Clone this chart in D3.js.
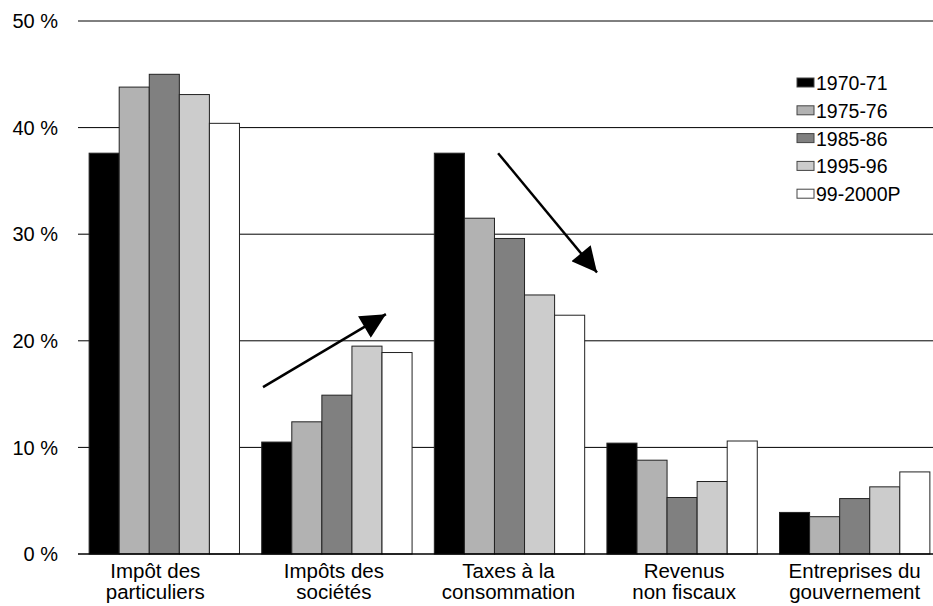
<!DOCTYPE html>
<html>
<head>
<meta charset="utf-8">
<script src="https://cdn.jsdelivr.net/npm/d3@7"></script>
<style>
  html, body { margin: 0; padding: 0; background: #fff; }
  svg { display: block; font-family: "Liberation Sans", Arial, sans-serif; }
</style>
</head>
<body>
<svg id="chart" width="933" height="606"></svg>
<script>
// ---- data ----
const categories = [
  ["Impôt des", "particuliers"],
  ["Impôts des", "sociétés"],
  ["Taxes à la", "consommation"],
  ["Revenus", "non fiscaux"],
  ["Entreprises du", "gouvernement"]
];
const seriesNames = ["1970-71", "1975-76", "1985-86", "1995-96", "99-2000P"];
const s1970 = [37.6, 10.5, 37.6, 10.4, 3.9];
const s1975 = [43.8, 12.4, 31.5, 8.8, 3.5];
const s1985 = [45.0, 14.9, 29.6, 5.3, 5.2];
const s1995 = [43.1, 19.5, 24.3, 6.8, 6.3];
const s1999 = [40.4, 18.9, 22.4, 10.6, 7.7];
const seriesValues = [s1970, s1975, s1985, s1995, s1999];
const seriesColors = ["#000000", "#b2b2b2", "#808080", "#cccccc", "#ffffff"];
const yTicks = [0, 10, 20, 30, 40, 50];
// annotation arrows, in (category position, percent) units
const arrows = [
  { x0: 1.072, y0: 15.66, x1: 1.784, y1: 22.5 },
  { x0: 2.434, y0: 37.6, x1: 3.007, y1: 26.4 }
];

// ---- layout ----
const svg = d3.select("#chart");
const mLeft = 78, mRight = 941, mTop = 21, mBottom = 554;
const labelShift = [-9, -3, -1, 2, 0];

const x = d3.scaleBand().domain(d3.range(categories.length)).range([mLeft, mRight]).padding(0);
const xc = d3.scaleLinear().domain([0, categories.length]).range([mLeft, mRight]);
const inner = d3.scaleBand().domain(d3.range(seriesNames.length))
  .range([0, x.bandwidth()]).paddingOuter(0.37).paddingInner(0);
const y = d3.scaleLinear().domain([0, 50]).range([mBottom, mTop]);

// gridlines
svg.append("g").selectAll("line").data(yTicks.filter(d => d > 0)).join("line")
  .attr("x1", mLeft).attr("x2", 933)
  .attr("y1", d => y(d)).attr("y2", d => y(d))
  .attr("stroke", "#000").attr("stroke-width", 1);

// y labels
svg.append("g").selectAll("text").data(yTicks).join("text")
  .attr("x", 58).attr("y", d => y(d)).attr("dy", "0.36em")
  .attr("text-anchor", "end").attr("font-size", 20).attr("fill", "#000")
  .text(d => d + " %");

// bars
const groups = svg.append("g").selectAll("g").data(categories).join("g")
  .attr("transform", (d, i) => `translate(${x(i)},0)`);
groups.selectAll("rect").data((d, i) => seriesValues.map((s, k) => ({ k, v: s[i] })))
  .join("rect")
  .attr("x", d => inner(d.k)).attr("width", inner.bandwidth())
  .attr("y", d => y(d.v)).attr("height", d => y(0) - y(d.v))
  .attr("fill", d => seriesColors[d.k])
  .attr("stroke", "#222").attr("stroke-width", 1);

// zero axis
svg.append("line").attr("x1", mLeft).attr("x2", 933)
  .attr("y1", y(0)).attr("y2", y(0)).attr("stroke", "#000").attr("stroke-width", 1.5);

// category labels
const cl = svg.append("g").selectAll("text").data(categories).join("text")
  .attr("x", (d, i) => x(i) + x.bandwidth() / 2 + labelShift[i])
  .attr("y", 578).attr("text-anchor", "middle").attr("font-size", 20.5).attr("fill", "#000");
cl.selectAll("tspan").data(d => d).join("tspan")
  .attr("x", function () { return d3.select(this.parentNode).attr("x"); })
  .attr("dy", (d, j) => j === 0 ? 0 : 21)
  .text(d => d);

// arrows
const defs = svg.append("defs");
defs.append("marker").attr("id", "ah").attr("viewBox", "0 0 10 10")
  .attr("refX", 10).attr("refY", 5).attr("markerWidth", 26).attr("markerHeight", 25)
  .attr("markerUnits", "userSpaceOnUse").attr("orient", "auto")
  .append("path").attr("d", "M0,0 L10,5 L0,10 Z").attr("fill", "#000");
svg.append("g").selectAll("line").data(arrows).join("line")
  .attr("x1", d => xc(d.x0)).attr("y1", d => y(d.y0))
  .attr("x2", d => xc(d.x1)).attr("y2", d => y(d.y1))
  .attr("stroke", "#000").attr("stroke-width", 2.5)
  .attr("marker-end", "url(#ah)");

// legend
const lg = svg.append("g").selectAll("g").data(seriesNames).join("g")
  .attr("transform", (d, i) => `translate(797,${83 + i * 27.8})`);
lg.append("rect").attr("x", 0).attr("y", -5).attr("width", 17).attr("height", 9)
  .attr("fill", (d, i) => seriesColors[i]).attr("stroke", "#444").attr("stroke-width", 1);
lg.append("text").attr("x", 19).attr("y", 0).attr("dy", "0.36em")
  .attr("font-size", 19.5).attr("fill", "#000").text(d => d);
</script>
</body>
</html>
